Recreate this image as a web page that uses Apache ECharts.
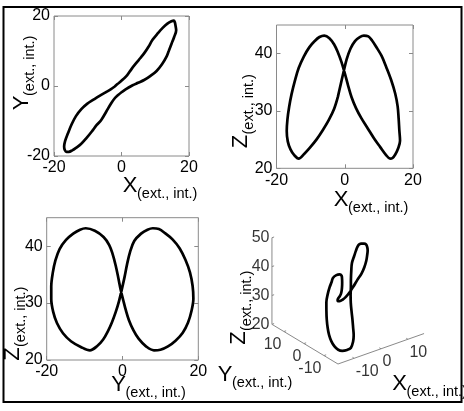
<!DOCTYPE html>
<html>
<head>
<meta charset="utf-8">
<script src="https://cdn.jsdelivr.net/npm/echarts@6/dist/echarts.min.js"></script>
<style>
  html, body { margin: 0; padding: 0; background: #fff; }
  #chart { width: 464px; height: 411px; }
</style>
</head>
<body>
<div id="chart"></div>
<script>
// One period of the synchronized orbit, sampled in time order.
const orbitX = [-2.0, -1.2, -0.35, 0.55, 1.7, 3.0, 4.4, 5.6,
  6.9, 8.0, 9.2, 10.8, 12.2, 13.6, 14.8, 15.5, 15.8, 16.0, 16.2, 15.6, 14.8, 14.0,
  13.3, 12.0, 10.4, 8.6, 6.7, 4.9, 3.3, 2.0, 1.0, 0.0, -1.0, -2.0, -3.1, -4.5, -6.0,
  -7.4, -8.8, -10.4, -12.0, -13.5, -14.6, -15.6, -16.3, -16.8, -17.0, -16.7, -15.9, -14.8,
  -13.5, -11.9, -10.2, -8.3, -6.5, -4.7, -3.1];
const orbitY = [-0.15, 0.55, 1.2, 2.0, 3.1, 4.9, 6.6, 8.0,
  9.6, 11.2, 13.2, 15.1, 16.6, 17.8, 18.5, 18.7, 18.2, 17.3, 15.9, 14.0, 12.0, 10.0,
  8.3, 6.2, 4.3, 2.9, 1.7, 0.9, 0.2, -0.5, -1.1, -1.8, -2.6, -3.5, -5.0, -7.3, -9.7,
  -11.2, -13.0, -14.9, -16.6, -17.7, -18.4, -18.8, -18.8, -18.3, -17.3, -15.7, -13.6, -11.0,
  -8.6, -6.6, -5.1, -3.9, -2.8, -1.8, -0.9];
const orbitZ = [32.5, 34.6, 36.8, 39.0, 40.9, 42.2, 42.9, 43.15,
  43.0, 42.3, 41.2, 39.6, 37.6, 35.4, 33.0, 30.8, 28.6, 26.6, 24.8, 23.4, 22.4, 21.8,
  21.7, 22.4, 23.7, 25.2, 27.0, 28.7, 30.5, 32.4, 34.4, 36.6, 38.6, 40.2, 41.6, 42.7, 43.15,
  42.9, 42.2, 41.1, 39.5, 37.5, 35.3, 32.9, 30.7, 28.5, 26.5, 24.7, 23.3, 22.3,
  21.7, 22.5, 23.6, 25.0, 26.6, 28.4, 30.4];

// Axis limits and tick labels
const planeRange = [-20, 20];
const planeTicks = [-20, 0, 20];
const zPlaneRange = [20, 45];
const zPlaneTicks = [20, 30, 40];
const boxRangeA = [-16, 16];   // front-right edge of the 3-D box
const boxRangeB = [-17, 16];   // back-left edge of the 3-D box
const boxRangeZ = [20, 50];
const boxTicksAB = [-10, 0, 10];
const boxTicksZ = [20, 30, 40, 50];

const FONT = '"Liberation Sans", Arial, Helvetica, sans-serif';
const GRAY = '#8a8a8a';
const INK = '#000';

const closeLoop = arr => arr.concat([arr[0]]);
const X = closeLoop(orbitX), Y = closeLoop(orbitY), Z = closeLoop(orbitZ);
const pairs = (a, b) => a.map((v, i) => [v, b[i]]);

// Plane panels
const panels = [
  { rect: { left: 54, top: 16, width: 135, height: 140 },
    xr: planeRange, xt: planeTicks, yr: planeRange, yt: planeTicks, data: pairs(X, Y) },
  { rect: { left: 276.5, top: 25, width: 136.5, height: 143.3 },
    xr: planeRange, xt: planeTicks, yr: zPlaneRange, yt: zPlaneTicks, data: pairs(X, Z) },
  { rect: { left: 46.7, top: 217.7, width: 151.6, height: 142.3 },
    xr: planeRange, xt: planeTicks, yr: zPlaneRange, yt: zPlaneTicks, data: pairs(Y, Z) }
];

function valueAxis(gridIndex, range, ticks, position, withLabels) {
  return {
    gridIndex, type: 'value', position,
    min: range[0], max: range[1], interval: 10,
    axisLine: { show: false, onZero: false },
    axisTick: { show: true, inside: true, length: 4, customValues: ticks,
                lineStyle: { color: GRAY, width: 1 } },
    axisLabel: { show: withLabels, customValues: ticks, color: INK, fontSize: 16,
                 fontFamily: FONT, margin: 4 },
    splitLine: { show: false }
  };
}

const grids = [], xAxes = [], yAxes = [], series = [];
panels.forEach((p, i) => {
  grids.push(Object.assign({ show: true, borderColor: GRAY, borderWidth: 1,
                             backgroundColor: 'transparent' }, p.rect));
  xAxes.push(valueAxis(i, p.xr, p.xt, 'bottom', true));
  xAxes.push(valueAxis(i, p.xr, p.xt, 'top', false));
  yAxes.push(valueAxis(i, p.yr, p.yt, 'left', true));
  yAxes.push(valueAxis(i, p.yr, p.yt, 'right', false));
  series.push({
    type: 'line', xAxisIndex: 2 * i, yAxisIndex: 2 * i, data: p.data,
    smooth: 0.35, symbol: 'none', clip: false,
    lineStyle: { color: INK, width: 2.7 }
  });
});

// 3-D box seen from azimuth -37.5 deg, elevation 30 deg (unit cube, then scaled by the grid)
const AZ = 37.5 * Math.PI / 180, EL = 30 * Math.PI / 180;
function project(a, b, z) {
  const na = (a - boxRangeA[0]) / (boxRangeA[1] - boxRangeA[0]);
  const nb = (b - boxRangeB[0]) / (boxRangeB[1] - boxRangeB[0]);
  const nz = (z - boxRangeZ[0]) / (boxRangeZ[1] - boxRangeZ[0]);
  const u = na * Math.cos(AZ) - nb * Math.sin(AZ);
  const v = Math.sin(EL) * (na * Math.sin(AZ) + nb * Math.cos(AZ)) + Math.cos(EL) * nz;
  return [u, v];
}
const boxGrid = 3;
grids.push({ left: 251.2, top: 199, width: 200.7, height: 190, show: false });
xAxes.push({ gridIndex: boxGrid, type: 'value', min: -0.8, max: 1.05, show: false });
yAxes.push({ gridIndex: boxGrid, type: 'value', min: -0.25, max: 1.65, show: false });
const boxX = 2 * panels.length, boxY = 2 * panels.length;

const [a0, a1] = boxRangeA, [b0, b1] = boxRangeB, [z0, z1] = boxRangeZ;
const edges = [
  [project(a0, b0, z0), project(a1, b0, z0)],
  [project(a0, b0, z0), project(a0, b1, z0)],
  [project(a0, b1, z0), project(a0, b1, z1)]
];
edges.forEach(seg => series.push({
  type: 'line', xAxisIndex: boxX, yAxisIndex: boxY, data: seg, symbol: 'none',
  lineStyle: { color: GRAY, width: 1 }, silent: true
}));

const tickSegs = [];
const da = 0.025 * (a1 - a0), db = 0.025 * (b1 - b0);
boxTicksAB.forEach(t => {
  tickSegs.push(project(t, b0, z0), project(t, b0 + db, z0), '-');
  tickSegs.push(project(a0, t, z0), project(a0 + da, t, z0), '-');
});
boxTicksZ.forEach(t => tickSegs.push(project(a0, b1, t), project(a0 + da, b1, t), '-'));
series.push({
  type: 'line', xAxisIndex: boxX, yAxisIndex: boxY, data: tickSegs, symbol: 'none',
  connectNulls: false, lineStyle: { color: GRAY, width: 1 }, silent: true
});

const tickLabels = [];
boxTicksAB.forEach(t => tickLabels.push({
  value: project(t, b0, z0),
  label: { formatter: String(t), position: 'right', distance: 1, offset: [0, 13] }
}));
boxTicksAB.forEach(t => tickLabels.push({
  value: project(a0, t, z0),
  label: { formatter: String(t), position: 'left', distance: 2, offset: [0, 13] }
}));
boxTicksZ.forEach(t => tickLabels.push({
  value: project(a0, b1, t),
  label: { formatter: String(t), position: 'left', distance: 2, offset: [0, 0] }
}));
series.push({
  type: 'scatter', xAxisIndex: boxX, yAxisIndex: boxY, data: tickLabels,
  symbolSize: 1, itemStyle: { color: 'rgba(0,0,0,0)' }, silent: true,
  label: { show: true, color: INK, fontSize: 16, fontFamily: FONT }
});

// Orbit in the box: Y column along the front-right edge, X column along the back-left edge
series.push({
  type: 'line', xAxisIndex: boxX, yAxisIndex: boxY,
  data: X.map((_, i) => project(Y[i], X[i], Z[i])),
  smooth: 0.35, symbol: 'none', clip: false,
  lineStyle: { color: INK, width: 2.7 }
});

// Axis titles with a lowered subscript
function title(main, sub, cx, cy, vertical) {
  return {
    type: 'group', x: cx, y: cy, rotation: vertical ? Math.PI / 2 : 0,
    children: [
      { type: 'text', x: 0, y: 0,
        style: { text: main, font: '22px ' + FONT, fill: INK,
                 textAlign: 'center', textVerticalAlign: 'middle', align: 'center', verticalAlign: 'middle' } },
      { type: 'text', x: 7, y: 8,
        style: { text: sub, font: '14.5px ' + FONT, fill: INK,
                 textAlign: 'left', textVerticalAlign: 'middle', align: 'left', verticalAlign: 'middle' } }
    ]
  };
}
const SUB = '(ext., int.)';
const graphics = [
  { type: 'rect', shape: { x: 3.5, y: 7, width: 458, height: 395 },
    style: { fill: 'none', stroke: '#000', lineWidth: 2 }, z: 10 },
  title('X', SUB, 130, 186, false),
  title('Y', SUB, 21.5, 103, true),
  title('X', SUB, 341, 200, false),
  title('Z', SUB, 241, 141.5, true),
  title('Y', SUB, 118.5, 385, false),
  title('Z', SUB, 12.5, 354, true),
  title('X', SUB, 399.5, 384, false),
  title('Y', SUB, 225, 375, false),
  title('Z', SUB, 239, 338, true)
];

const chart = echarts.init(document.getElementById('chart'), null, { renderer: 'canvas' });
chart.setOption({
  animation: false,
  backgroundColor: '#fff',
  grid: grids,
  xAxis: xAxes,
  yAxis: yAxes,
  series: series,
  graphic: { elements: graphics }
});
</script>
</body>
</html>
